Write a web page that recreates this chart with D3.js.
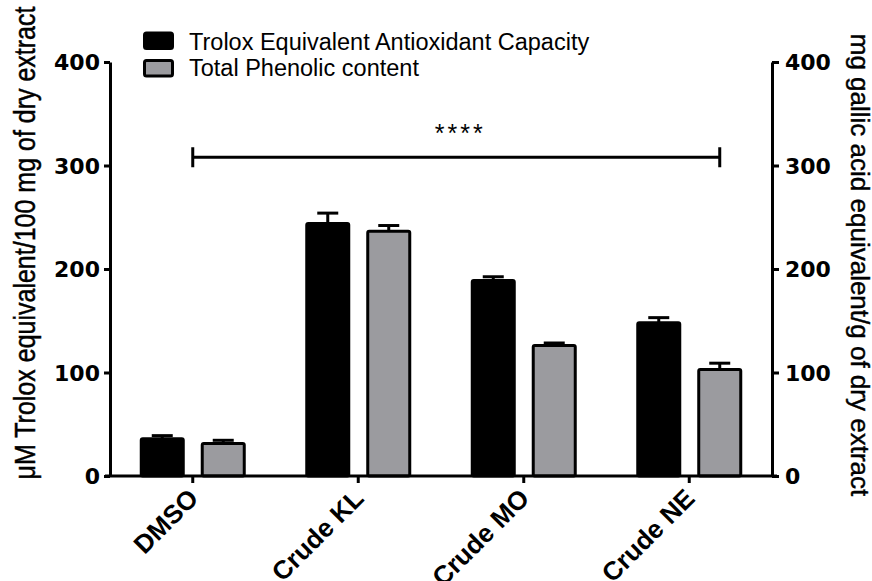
<!DOCTYPE html>
<html>
<head>
<meta charset="utf-8">
<script src="https://cdn.jsdelivr.net/npm/d3@7"></script>
<style>
  html, body { margin: 0; padding: 0; background: #ffffff; }
  svg { display: block; }
</style>
</head>
<body>
<script>
// ---- data ----
const categories = ["DMSO", "Crude KL", "Crude MO", "Crude NE"];
const seriesNames = ["Trolox Equivalent Antioxidant Capacity", "Total Phenolic content"];
const teacValues = [36, 244, 189, 148];
const teacErrors = [3, 10, 3.5, 5];
const tpcValues = [31.5, 236.5, 126, 103];
const tpcErrors = [3, 5.5, 2.5, 6];
const yTicks = [0, 100, 200, 300, 400];
const leftTitle = "\u03bcM Trolox equivalent/100 mg of dry extract";
const rightTitle = "mg gallic acid equivalent/g of dry extract";
const sigLabel = "****";
const sigLevel = 308;

const W = 872, H = 581;
const svg = d3.select("body").append("svg").attr("width", W).attr("height", H);
svg.append("rect").attr("width", W).attr("height", H).attr("fill", "#ffffff");

const FONT = "'Liberation Sans', Arial, sans-serif";
const BOLD = "'DejaVu Sans', 'Liberation Sans', Arial, sans-serif";

const x = d3.scaleBand().domain(categories).range([110, 772]).paddingInner(0).paddingOuter(0);
const bw = x.bandwidth();
const xs = d3.scaleBand().domain(["teac", "tpc"]).range([bw / 2 - 53, bw / 2 + 53]).paddingInner(0.262);
const y = d3.scaleLinear().domain([0, 400]).range([476, 62]);

const colors = { teac: "#000000", tpc: "#9b9b9f" };
const rows = categories.map((c, i) => ({
  cat: c,
  items: [
    { key: "teac", v: teacValues[i], e: teacErrors[i] },
    { key: "tpc", v: tpcValues[i], e: tpcErrors[i] }
  ]
}));

// error bars
const eg = svg.append("g").attr("stroke", "#000").attr("stroke-width", 3).attr("fill", "none");
rows.forEach(r => r.items.forEach(d => {
  const cx = x(r.cat) + xs(d.key) + xs.bandwidth() / 2;
  eg.append("line").attr("x1", cx).attr("x2", cx).attr("y1", y(d.v)).attr("y2", y(d.v + d.e));
  eg.append("line").attr("x1", cx - 10.5).attr("x2", cx + 10.5).attr("y1", y(d.v + d.e)).attr("y2", y(d.v + d.e));
}));

// bars
const bg = svg.append("g");
rows.forEach(r => r.items.forEach(d => {
  bg.append("rect")
    .attr("x", x(r.cat) + xs(d.key) + 1.5)
    .attr("width", xs.bandwidth() - 3)
    .attr("y", y(d.v))
    .attr("height", y(0) - y(d.v))
    .attr("fill", colors[d.key])
    .attr("stroke", "#000")
    .attr("stroke-width", 3)
    .attr("stroke-linejoin", "round")
    .attr("rx", 1.5);
}));

// axes
function styleAxis(g) {
  g.selectAll("path.domain").attr("stroke", "#000").attr("stroke-width", 3);
  g.selectAll(".tick line").attr("stroke", "#000").attr("stroke-width", 3);
  g.selectAll(".tick text").attr("fill", "#000").style("font-family", BOLD)
    .style("font-size", "22px").style("font-weight", "bold");
}
const yl = svg.append("g").attr("transform", "translate(110,0)")
  .call(d3.axisLeft(y).tickValues(yTicks).tickSize(6).tickSizeOuter(0).tickPadding(4));
styleAxis(yl);
yl.selectAll(".tick text").attr("dy", "0.36em");

const yr = svg.append("g").attr("transform", "translate(772,0)")
  .call(d3.axisRight(y).tickValues(yTicks).tickSize(7).tickSizeOuter(0).tickPadding(6));
styleAxis(yr);
yr.selectAll(".tick text").attr("dy", "0.36em");

const xa = svg.append("g").attr("transform", "translate(0,476)")
  .call(d3.axisBottom(x).tickSize(7).tickSizeOuter(0));
styleAxis(xa);
xa.select("path.domain").attr("d", "M105,0H777");
xa.selectAll(".tick text")
  .attr("text-anchor", "end")
  .attr("x", 0).attr("y", 0).attr("dy", 0)
  .attr("transform", "translate(7,24) rotate(-45)")
  .style("font-family", FONT)
  .style("font-size", "26px");

// legend
const lg = svg.append("g");
[["teac", 33, 50], ["tpc", 60.5, 75.5]].forEach((a, i) => {
  lg.append("rect").attr("x", 144.5).attr("y", a[1]).attr("width", 28).attr("height", 15.5)
    .attr("fill", colors[a[0]]).attr("stroke", "#000").attr("stroke-width", 3).attr("rx", 2);
  lg.append("text").attr("x", 189).attr("y", a[2]).text(seriesNames[i])
    .style("font-family", FONT).style("font-size", "23.5px").attr("fill", "#000");
});

// significance bracket
const bx1 = x("DMSO") + bw / 2;
const bx2 = x("Crude NE") + xs("tpc") + xs.bandwidth() / 2;
const by = y(sigLevel);
svg.append("path")
  .attr("d", `M${bx1},${by - 10}V${by + 10}M${bx1},${by}H${bx2}M${bx2},${by - 10}V${by + 10}`)
  .attr("stroke", "#000").attr("stroke-width", 3).attr("fill", "none");
svg.append("text").attr("x", (bx1 + bx2) / 2 + 4).attr("y", by - 15).attr("text-anchor", "middle")
  .style("font-family", FONT).style("font-size", "25px").style("letter-spacing", "3px")
  .text(sigLabel);

// axis titles
svg.append("text").attr("transform", "translate(35,243) scale(1.15,1) rotate(-90)")
  .attr("text-anchor", "middle").style("font-family", FONT).style("font-size", "25px")
  .attr("stroke", "#000").attr("stroke-width", 0.4)
  .text(leftTitle);
svg.append("text").attr("transform", "translate(851,265) rotate(90)")
  .attr("text-anchor", "middle").style("font-family", FONT).style("font-size", "26px")
  .attr("stroke", "#000").attr("stroke-width", 0.4)
  .text(rightTitle);
</script>
</body>
</html>
